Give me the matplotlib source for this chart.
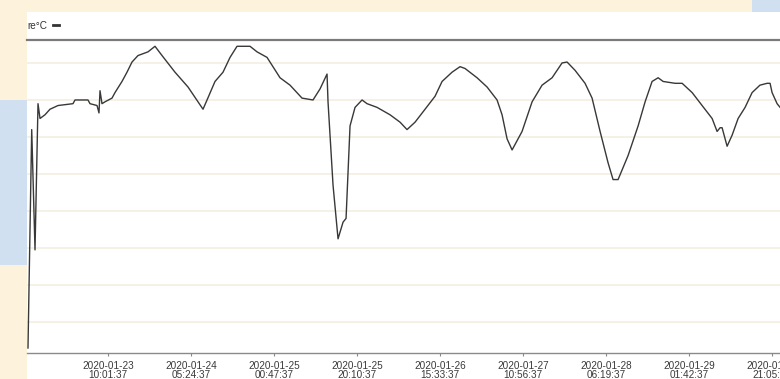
import pandas as pd
import numpy as np
import matplotlib
matplotlib.use("Agg")
import matplotlib.pyplot as plt
import matplotlib.dates as mdates
from matplotlib.patches import Rectangle
from matplotlib.lines import Line2D

# temperature log, hours since the first sample
start = pd.Timestamp("2020-01-22 15:06:37")
hours = [0.23, 1.10, 1.87, 2.57, 3.04, 4.20, 5.37, 7.24, 10.74, 11.21,
         14.24, 14.71, 16.35, 16.81, 17.05, 17.51, 18.21, 19.85, 20.55, 22.18,
         23.35, 24.52, 25.92, 28.26, 29.89, 31.53, 34.56, 37.60, 41.10, 42.04,
         43.90, 45.77, 47.41, 49.04, 52.08, 53.71, 56.05, 59.08, 61.42, 64.22,
         66.79, 68.43, 70.06, 70.29, 71.46, 72.63, 73.80, 74.50, 75.43, 76.60,
         78.24, 79.40, 81.74, 84.77, 87.11, 88.74, 90.61, 92.95, 95.28, 96.92,
         99.25, 101.12, 102.29, 105.09, 107.43, 109.76, 110.93, 112.10, 113.27, 115.60,
         117.94, 120.27, 122.61, 124.94, 126.11, 127.98, 130.31, 131.95, 133.82, 135.69,
         136.85, 138.02, 140.36, 142.70, 144.33, 145.96, 147.37, 148.54, 151.34, 152.98,
         155.31, 157.64, 159.98, 161.14, 161.84, 162.31, 163.48, 164.65, 166.05, 167.68,
         169.32, 171.15, 172.81, 173.51, 173.98, 175.15, 175.85, 178.19]
temp_c = [8.6, 20.4, 13.9, 21.8, 21.0, 21.2, 21.5, 21.7, 21.8, 22.0,
          22.0, 21.8, 21.7, 21.3, 22.5, 21.8, 21.9, 22.1, 22.4, 23.0,
          23.5, 24.05, 24.4, 24.6, 24.9, 24.4, 23.5, 22.7, 21.5, 22.0,
          23.0, 23.5, 24.3, 24.9, 24.9, 24.6, 24.3, 23.2, 22.8, 22.1,
          22.0, 22.6, 23.4, 21.9, 17.4, 14.5, 15.4, 15.6, 20.6, 21.6,
          22.0, 21.8, 21.6, 21.2, 20.8, 20.4, 20.8, 21.5, 22.2, 23.0,
          23.5, 23.8, 23.7, 23.2, 22.7, 22.0, 21.2, 19.9, 19.3, 20.3,
          21.9, 22.8, 23.2, 24.0, 24.05, 23.6, 22.9, 22.1, 20.3, 18.6,
          17.7, 17.7, 19.0, 20.6, 21.9, 23.0, 23.2, 23.0, 22.9, 22.9,
          22.4, 21.7, 21.0, 20.3, 20.5, 20.5, 19.5, 20.1, 21.0, 21.6,
          22.4, 22.8, 22.9, 22.9, 22.4, 21.8, 21.6, 21.2]

first_tick = "2020-01-23 10:01:37"
tick_step = "1163min"   # 19h23m between labels
n_ticks = 9
grid_levels = [10, 12, 14, 16, 18, 20, 22, 24]
legend_label = "re°C"

times = start + pd.to_timedelta(hours, unit="h")
ticks = pd.date_range(first_tick, periods=n_ticks, freq=tick_step)

W, H = 780, 379
fig = plt.figure(figsize=(W / 100, H / 100), dpi=100)
fig.patch.set_facecolor("#fdf2dc")

# page pieces around the chart panel
fig.patches.append(Rectangle((0, 1 - 265 / H), 27 / W, 165 / H, transform=fig.transFigure,
                             facecolor="#d0e0f1", edgecolor="none", zorder=-2))
fig.patches.append(Rectangle((752 / W, 1 - 12 / H), 28 / W, 12 / H, transform=fig.transFigure,
                             facecolor="#d0e0f1", edgecolor="none", zorder=-2))
fig.patches.append(Rectangle((27 / W, 0), 753 / W, 367 / H, transform=fig.transFigure,
                             facecolor="white", edgecolor="none", zorder=-1))

ax = fig.add_axes([27 / W, 26 / H, 773 / W, 313 / H])
ax.set_zorder(2)
ax.set_facecolor("none")
ax.plot(times, temp_c, color="#383838", lw=1.0, zorder=3)

ax.set_xlim(start, start + pd.Timedelta(hours=180.5))
ax.set_ylim(8.33, 25.24)

ax.set_yticks(grid_levels)
ax.yaxis.grid(True, color="#f4f0e4", lw=1.3)
ax.tick_params(axis="y", left=False, labelleft=False)

ax.set_xticks(ticks)
ax.xaxis.set_major_formatter(mdates.DateFormatter("%Y-%m-%d\n%H:%M:%S"))
ax.tick_params(axis="x", length=2.5, width=0.8, color="#888888", pad=3,
               labelsize=7.2, labelcolor="#3a3a3a")
for lab in ax.get_xticklabels():
    lab.set_fontfamily("Liberation Sans")
    lab.set_linespacing(0.95)

for side in ["left", "right"]:
    ax.spines[side].set_visible(False)
ax.spines["top"].set_color("#7a7a7a")
ax.spines["top"].set_linewidth(1.6)
ax.spines["bottom"].set_color("#8a8a8a")
ax.spines["bottom"].set_linewidth(1.0)

# legend at the top left, cut by the panel edge in the source
fig.text(27 / W, 1 - 26 / H, legend_label, fontsize=7.2, color="#333333",
         family="Liberation Sans", va="center", ha="left", zorder=3)
fig.lines.append(Line2D([53 / W, 59 / W], [1 - 25 / H, 1 - 25 / H], transform=fig.transFigure,
                        color="#333333", lw=2.0, zorder=3))

fig.savefig("out.png", dpi=100, facecolor=fig.get_facecolor())
